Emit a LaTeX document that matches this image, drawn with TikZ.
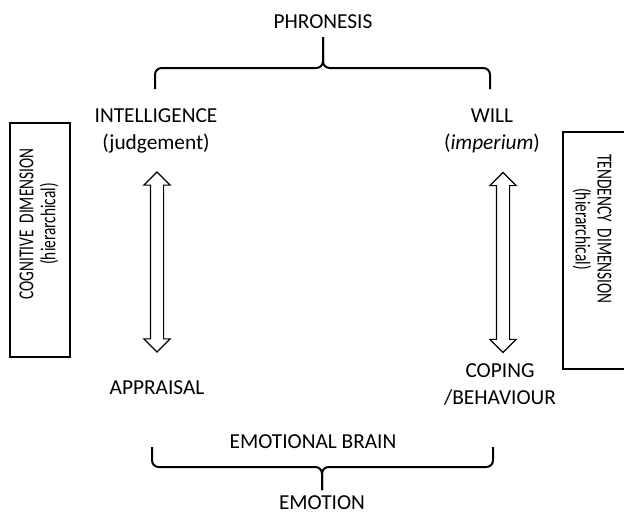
\documentclass[tikz,border=0pt]{standalone}
\usepackage{fontspec}
\setmainfont{Carlito}
\newfontfamily\narrowfont[FakeStretch=0.72]{Carlito}
\usetikzlibrary{shapes.arrows,positioning,calc}

\tikzset{
    term/.style={font=\fontsize{16}{20.25}\selectfont, align=center, inner sep=0pt},
    dimtext/.style={font=\narrowfont\fontsize{16}{16.5}\selectfont, align=center, inner sep=0pt},
    braceline/.style={line width=1.5pt, rounded corners=5pt},
    dimbox/.style={draw, line width=0.8pt},
    updown/.style={draw, line width=0.9pt, double arrow, inner xsep=0pt, inner ysep=4.5pt,
        minimum height=135pt, double arrow head extend=4.9pt, rotate=90}
}

\begin{document}
\begin{tikzpicture}[x=0.75pt, y=-0.75pt]
            \useasboundingbox (0,0) rectangle (624,514);
            % top: phronesis
            \node[term] (phron) at (323,22) {PHRONESIS};
            \node[term] (intel) at (156,131) {INTELLIGENCE\\(judgement)};
            \node[term] (will) at (492,131) {WILL\\(\textit{imperium})};
            \coordinate (toptip) at (323,37);
            \draw[braceline] (155,89) -- (155,68) -- (toptip |- 0,68) -- (toptip);
            \draw[braceline] (490,89) -- (490,68) -- (toptip |- 0,68) -- (toptip);
            % the two dimensions
            \node[updown] (leftarr) at (157,262) {};
            \node[updown] (rightarr) at (503,262.5) {};
            \draw[dimbox] (10,123) rectangle (70,357);
            \node[dimtext, rotate=90] (cogn) at (39,224) {COGNITIVE\ \ DIMENSION\\(hierarchical)};
            \draw[dimbox] (563,132) rectangle (630,369);
            \node[dimtext, rotate=-90] (tend) at (592,229) {TENDENCY\ \ DIMENSION\\(hierarchical)};
            % bottom: emotion
            \node[term] (appr) at (157,388) {APPRAISAL};
            \node[term] (coping) at (500,385) {COPING\\/BEHAVIOUR};
            \node[term] (brain) at (313,442) {EMOTIONAL BRAIN};
            \coordinate (bottip) at (322,490);
            \draw[braceline] (152,447) -- (152,467) -- (bottip |- 0,467) -- (bottip);
            \draw[braceline] (493,447) -- (493,467) -- (bottip |- 0,467) -- (bottip);
            \node[term] (emot) at (322,503) {EMOTION};
        \end{tikzpicture}
\end{document}
